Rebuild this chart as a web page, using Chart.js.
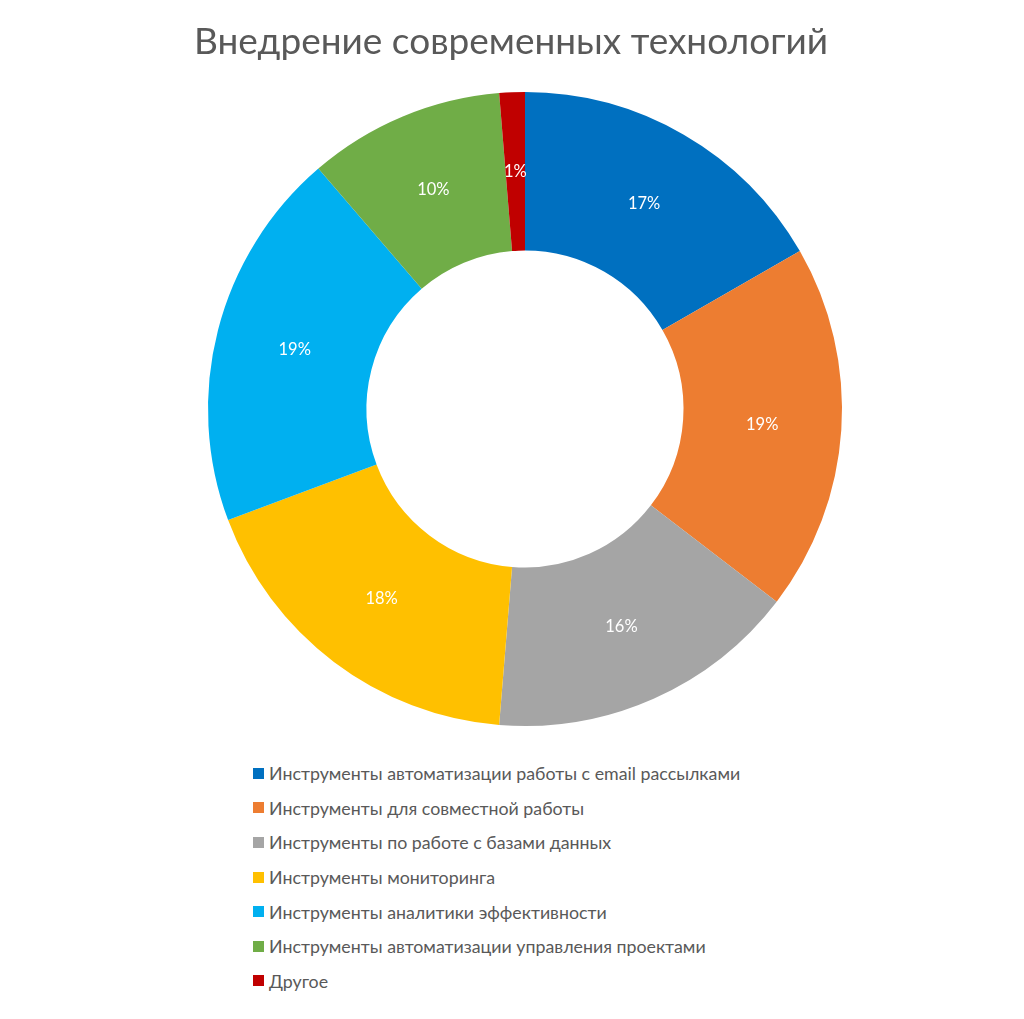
<!DOCTYPE html>
<html>
<head>
<meta charset="utf-8">
<script src="https://cdn.jsdelivr.net/npm/chart.js@4.4.1/dist/chart.umd.min.js"></script>
<style>
  body { margin: 0; background: #fff; font-family: Lato, "Open Sans", sans-serif; }
  #wrap { position: relative; width: 1024px; height: 740px; }
  #title { position: absolute; left: 0; top: 17px; width: 1022px; text-align: center; font-size: 37px; color: #595959; line-height: 46px; }
  #legend { position: absolute; left: 253px; top: 756px; margin: 0; padding: 0; list-style: none; }
  #legend li { height: 34.6px; font-size: 17.8px; color: #595959; display: flex; align-items: center; }
  #legend span.box { display: inline-block; width: 11px; height: 11px; margin-right: 5px; }
</style>
</head>
<body>
<div id="wrap"><canvas id="myChart"></canvas></div>
<div id="title"></div>
<ul id="legend"></ul>
<script>
const chartTitle = 'Внедрение современных технологий';
const labels = [
    'Инструменты автоматизации работы с email рассылками',
    'Инструменты для совместной работы',
    'Инструменты по работе с базами данных',
    'Инструменты мониторинга',
    'Инструменты аналитики эффективности',
    'Инструменты автоматизации управления проектами',
    'Другое'
];
const values = [16.7, 18.7, 15.9, 18.0, 19.4, 10.0, 1.3];
const colors = ['#0070C0', '#ED7D31', '#A5A5A5', '#FFC000', '#00B0F0', '#70AD47', '#C00000'];

const total = values.reduce((a, b) => a + b, 0);

// percent labels in the middle of each slice
const sliceLabels = {
    id: 'sliceLabels',
    afterDatasetsDraw(chart) {
        const ctx = chart.ctx;
        const meta = chart.getDatasetMeta(0);
        ctx.save();
        ctx.fillStyle = '#ffffff';
        ctx.font = '16.5px Lato, "Open Sans", sans-serif';
        ctx.textAlign = 'center';
        ctx.textBaseline = 'middle';
        meta.data.forEach((arc, i) => {
            const p = arc.tooltipPosition();
            ctx.fillText(Math.round(values[i] / total * 100) + '%', p.x, p.y);
        });
        ctx.restore();
    }
};

const data = {
    labels: labels,
    datasets: [{
        data: values,
        backgroundColor: colors,
        borderWidth: 0
    }]
};

const config = {
    type: 'doughnut',
    data: data,
    options: {
        responsive: false,
        animation: false,
        cutout: '50%',
        layout: { padding: { left: 26, top: 92, bottom: 14 } },
        plugins: {
            legend: { display: false },
            tooltip: { enabled: false }
        }
    },
    plugins: [sliceLabels]
};

const canvas = document.getElementById('myChart');
canvas.width = 1024;
canvas.height = 740;
const myChart = new Chart(canvas, config);

document.getElementById('title').textContent = chartTitle;

// legend as a plain list under the chart
const legendEl = document.getElementById('legend');
labels.forEach((text, i) => {
    const li = document.createElement('li');
    const box = document.createElement('span');
    box.className = 'box';
    box.style.background = colors[i];
    li.appendChild(box);
    li.appendChild(document.createTextNode(text));
    legendEl.appendChild(li);
});
</script>
</body>
</html>
